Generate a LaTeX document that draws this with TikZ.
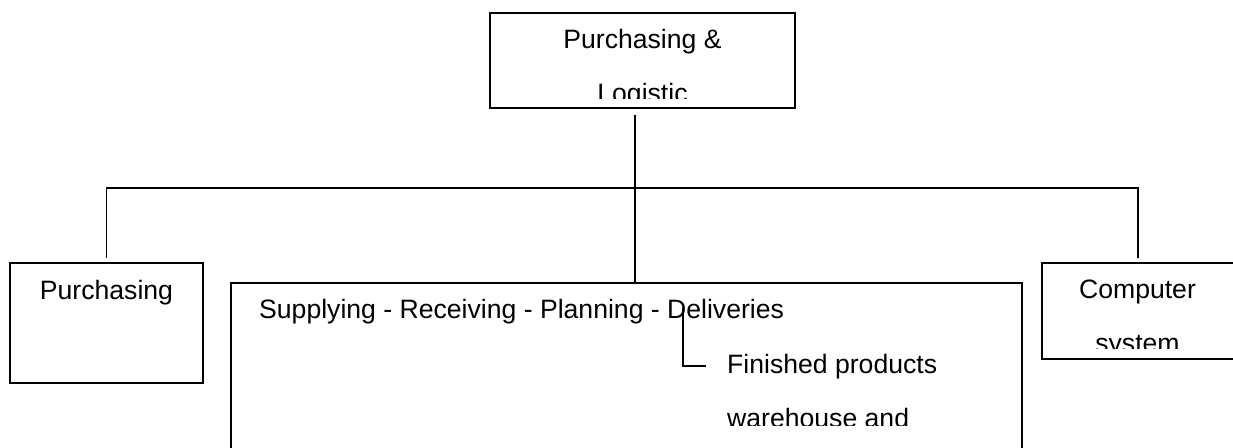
\documentclass[tikz,border=0pt]{standalone}
\usepackage{fontspec}
\setmainfont{Liberation Sans}
\begin{document}
\begin{tikzpicture}[x=1pt,y=-1pt,
  box/.style={draw=black,line width=1.6pt,inner sep=0pt,fill=none},
  wire/.style={draw=black,line width=1.6pt},
  label/.style={inner sep=0pt,font=\fontsize{26.6}{26.6}\selectfont}]
  % page frame
  \clip (0,0) rectangle (1233,447);
  \fill[white] (0,0) rectangle (1233,447);

  % boxes
  \node[box,minimum width=305pt,minimum height=95pt] (top) at (642.5,60.5) {};
  \node[box,minimum width=193pt,minimum height=120pt] (purch) at (106.5,323) {};
  \node[box,minimum width=791pt,minimum height=220pt] (big) at (626.5,393) {};
  \node[box,minimum width=192pt,minimum height=96pt] (comp) at (1138,311) {};

  % box texts, cut off at the lower edge of each text frame
  \begin{scope}
    \clip (490,13) rectangle (795,98);
    \node[label,anchor=base] (t1) at (642.5,48) {Purchasing \&};
    \node[label,anchor=base] (t2) at (642.5,102) {Logistic};
  \end{scope}
  \node[label,anchor=base] (p1) at (106.5,299) {Purchasing};
  \begin{scope}
    \clip (1042,263) rectangle (1233,348);
    \node[label,anchor=base] (c1) at (1137.5,298) {Computer};
    \node[label,anchor=base] (c2) at (1137.5,352) {system};
  \end{scope}
  \begin{scope}
    \clip (231,283) rectangle (1022,425);
    \node[label,anchor=base west] (s1) at (259,318) {Supplying - Receiving - Planning - Deliveries};
    \node[label,anchor=base west] (fp) at (727,373) {Finished products};
    \node[label,anchor=base west] (wh) at (727,427) {warehouse and};
  \end{scope}

  % connectors
  \coordinate (trunk) at ([xshift=-7.5pt,yshift=-6pt]top.south);
  \coordinate (bus) at (635,188);
  \draw[wire] (trunk) -- (trunk |- big.north);
  \draw[wire] ([yshift=4pt]purch.north) |- (bus) -| ([yshift=4pt]comp.north);
  \coordinate (dtick) at (683,308);
  \draw[wire] (dtick) |- ([xshift=-21pt]fp.west);
\end{tikzpicture}
\end{document}
